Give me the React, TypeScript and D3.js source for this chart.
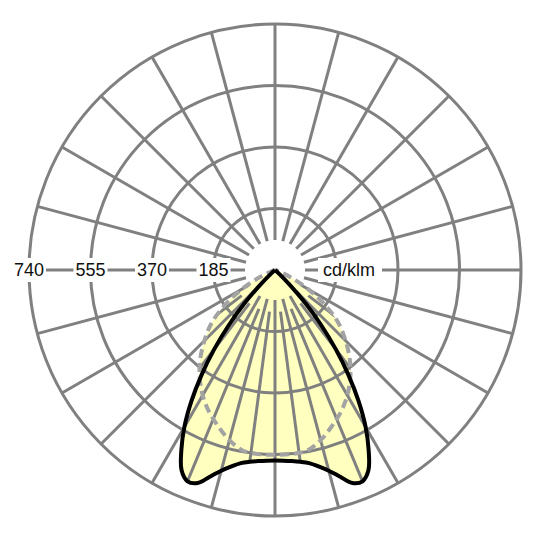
import * as d3 from 'd3';

// solid black curve (C0-C180): gamma from nadir (deg) and intensity (cd/klm), mirrored left/right
const gammaSolid = [0, 2.5, 5, 7.5, 10, 12.5, 15, 17.5, 20, 22.5, 25, 27.5, 30, 32.5, 35, 37.5, 40, 42.5, 45, 47.5, 50, 60, 70, 80, 90];
const planeSolid = [573, 574, 577, 582, 590, 605, 625, 652, 682, 688, 665, 610, 545, 468, 385, 300, 215, 135, 60, 15, 0, 0, 0, 0, 0];
// dashed grey curve (C90-C270)
const gammaDashed = [0, 5, 10, 15, 20, 25, 30, 35, 40, 45, 50, 55, 60, 65, 70, 75, 80, 85, 90];
const planeDashed = [556, 556, 552, 530, 500, 470, 435, 395, 350, 300, 250, 185, 115, 50, 10, 0, 0, 0, 0];

const ringValues = [185, 370, 555, 740];
const ringLabels = ['185', '370', '555', '740'];
const unitLabel = 'cd/klm';
const maxValue = 740;

const W = 540;
const H = 540;
const cx = 275;
const cy = 270;
const rOuter = 246;
const rInner = 30;
const gridColor = '#808080';
const font = '"Liberation Sans", Arial, sans-serif';

const r = d3.scaleLinear().domain([0, maxValue]).range([0, rOuter]);
const toRad = (deg: number) => (deg * Math.PI) / 180;

type Pt = { a: number; v: number };

// mirror the half curve into a closed outline, angle for lineRadial (0 = up, clockwise)
const buildOutline = (gammas: number[], values: number[]): Pt[] => {
  const pts: Pt[] = [];
  for (let i = gammas.length - 1; i >= 0; i--) pts.push({ a: Math.PI + toRad(gammas[i]), v: values[i] });
  for (let i = 1; i < gammas.length; i++) pts.push({ a: Math.PI - toRad(gammas[i]), v: values[i] });
  return pts;
};

const radial = d3
  .lineRadial<Pt>()
  .angle(d => d.a)
  .radius(d => r(d.v))
  .curve(d3.curveCatmullRomClosed.alpha(0.5));

const spokes = d3.range(0, 360, 15);
const halfSpokes = d3.range(7.5, 360, 15);

const spokeEnds = (deg: number, from: number) => {
  const t = toRad(deg);
  return {
    x1: from * Math.sin(t),
    y1: -from * Math.cos(t),
    x2: rOuter * Math.sin(t),
    y2: -rOuter * Math.cos(t),
  };
};

export default function App() {
  const solidPath = radial(buildOutline(gammaSolid, planeSolid)) || '';
  const dashedPath = radial(buildOutline(gammaDashed, planeDashed)) || '';

  return (
    <svg
      width={W}
      height={H}
      viewBox={`0 0 ${W} ${H}`}
      style={{ position: 'absolute', left: 0, top: 0, background: '#fff' }}
    >
      <defs>
        <clipPath id="lum-clip">
          <path d={solidPath} transform={`translate(${cx},${cy})`} />
          <path d={dashedPath} transform={`translate(${cx},${cy})`} />
        </clipPath>
      </defs>
      <rect width={W} height={H} fill="#fff" />
      <g transform={`translate(${cx},${cy})`}>
        {/* fill */}
        <path d={solidPath} fill="#ffffc0" />
        <path d={dashedPath} fill="#ffffc0" />

        {/* rings */}
        {ringValues.map(v => (
          <circle key={v} r={r(v)} fill="none" stroke={gridColor} strokeWidth={3} />
        ))}
        {/* spokes every 15 deg */}
        {spokes.map(deg => {
          const s = spokeEnds(deg, rInner);
          return <line key={deg} {...s} stroke={gridColor} strokeWidth={3} />;
        })}
      </g>
      {/* finer spokes only inside the luminous area */}
      <g clipPath="url(#lum-clip)">
        <g transform={`translate(${cx},${cy})`}>
          {halfSpokes.map(deg => {
            const s = spokeEnds(deg, rInner + 12);
            return <line key={deg} {...s} stroke={gridColor} strokeWidth={3} />;
          })}
        </g>
      </g>
      <g transform={`translate(${cx},${cy})`}>
        {/* scale labels on the left horizontal axis */}
        {ringValues.map((v, i) => (
          <g key={v} transform={`translate(${-r(v)},0)`}>
            <rect x={-17} y={-12} width={34} height={24} fill="#fff" />
            <text textAnchor="middle" dy="0.36em" fontFamily={font} fontSize={18} fill="#111">
              {ringLabels[i]}
            </text>
          </g>
        ))}
        <g transform="translate(74,0)">
          <rect x={-31} y={-12} width={64} height={24} fill="#fff" />
          <text textAnchor="middle" dy="0.36em" fontFamily={font} fontSize={18} fill="#111">
            {unitLabel}
          </text>
        </g>

        {/* curves */}
        <path
          d={dashedPath}
          fill="none"
          stroke="#a3a3a3"
          strokeWidth={4}
          strokeDasharray="9 5"
          strokeLinejoin="round"
        />
        <path d={solidPath} fill="none" stroke="#000" strokeWidth={4} strokeLinejoin="round" />
      </g>
    </svg>
  );
}
